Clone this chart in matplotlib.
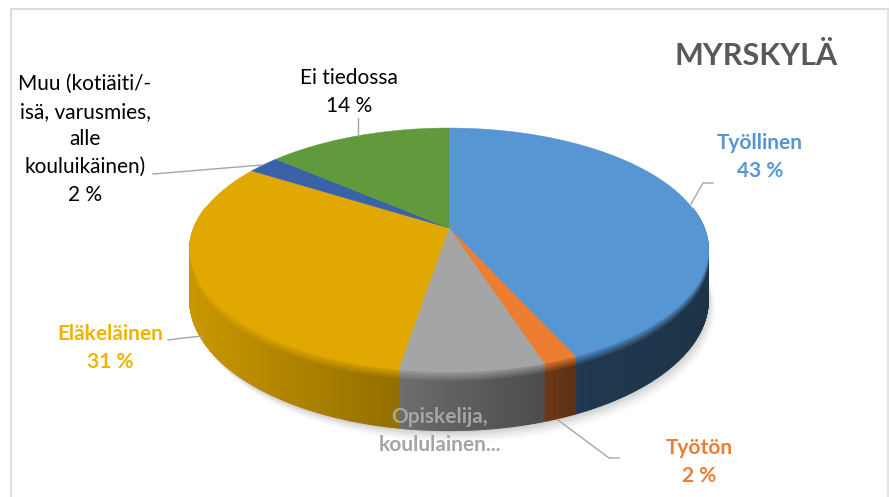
import numpy as np
import matplotlib.pyplot as plt
from matplotlib.collections import PolyCollection
from matplotlib.colors import to_rgb

plt.rcParams["font.family"] = ["Lato", "DejaVu Sans"]

LABELS = ["Työllinen", "Työtön", "Opiskelija,\nkoululainen...", "Eläkeläinen",
          "Muu (kotiäiti/-\nisä, varusmies,\nalle\nkouluikäinen)", "Ei tiedossa"]
VALUES = [43.2, 1.8, 7.6, 31.3, 2.4, 13.7]
PERCENT = ["43 %", "2 %", "", "31 %", "2 %", "14 %"]
COLORS = ["#5696D3", "#ED7D31", "#A5A5A5", "#E0A800", "#3A62A8", "#619A3C"]

# pie centre and perspective, in pixels of the 889x497 picture
CX, CY = 449, 228
RX, RY = 255, 118
TILT = 0.18
DEPTH = 48


def rim(angle):
    # angle clockwise from 12 o'clock, circle seen in perspective
    x, y = np.sin(angle), np.cos(angle)
    w = 1 + TILT * y
    return CX + RX * x / w, CY - RY * y / w, w


def shade(color, x):
    f = np.interp(x, [190, 400, 545, 580, 710], [0.9, 0.66, 0.46, 0.38, 0.34])
    return np.array(to_rgb(color)) * f


fig = plt.figure(figsize=(8.89, 4.97), dpi=100)
ax = fig.add_axes([0, 0, 1, 1])
ax.set_xlim(0, 889)
ax.set_ylim(497, 0)
ax.axis("off")

# chart frame
ax.plot([888, 888], [8.5, 497], color="#E4E4E4", lw=1.5)
ax.plot([889, 10.5, 10.5], [8.5, 8.5, 497], color="#DDDDDD", lw=1.5)

edges = np.cumsum([0] + VALUES) / sum(VALUES) * 2 * np.pi

# soft shadow under the pie
t = np.linspace(0, 2 * np.pi, 240)
sx, sy, sw = rim(t)
for grow, alpha in zip([9, 7, 5, 3, 1], [0.02, 0.03, 0.04, 0.05, 0.06]):
    ax.fill(sx + grow * 0.8, sy + (DEPTH + grow) / sw + 1, color="k", alpha=alpha, lw=0)

# side wall, split along the rim and down the height
bands = [0, 0.04, 0.08, 0.12, 0.16, 1]
polys, cols = [], []
for start, stop, color in zip(edges[:-1], edges[1:], COLORS):
    steps = max(int((stop - start) / 0.01), 2)
    a = np.linspace(start, stop, steps + 1)
    x, y, w = rim(a)
    for i in range(steps):
        if y[i] < CY - 20:
            continue
        wall = shade(color, x[i])
        top = np.array(to_rgb(color))
        for b0, b1 in zip(bands[:-1], bands[1:]):
            mix = min(b0 / 0.16, 1)
            polys.append([(x[i], y[i] + b0 * DEPTH / w[i]),
                          (x[i + 1], y[i + 1] + b0 * DEPTH / w[i + 1]),
                          (x[i + 1], y[i + 1] + b1 * DEPTH / w[i + 1]),
                          (x[i], y[i] + b1 * DEPTH / w[i])])
            cols.append(top * (1 - mix) * 0.8 + wall * (1 - (1 - mix) * 0.8))
ax.add_collection(PolyCollection(polys, facecolors=cols, edgecolors=cols, linewidths=1.0))

# top face
for start, stop, color in zip(edges[:-1], edges[1:], COLORS):
    a = np.linspace(start, stop, 120)
    x, y, _ = rim(a)
    ax.fill(np.r_[CX, x], np.r_[CY, y], color=color, lw=0.3)

# leader lines
LEADER = "#A6A6A6"
ax.plot([691, 703, 713], [204, 183, 183], color=LEADER, lw=1)
ax.plot([558, 609, 619], [420, 458, 458], color=LEADER, lw=1)
ax.plot([168, 183, 203], [340, 338, 336], color=LEADER, lw=1)
ax.plot([153, 262], [174, 165], color=LEADER, lw=1)
ax.plot([358, 358], [118, 136], color=LEADER, lw=1)

ax.text(756, 56, "MYRSKYLÄ", color="#595959", fontsize=22, fontweight="bold", ha="center", va="center")


def label(x, y, name, pct, color, weight):
    lines = name.split("\n") + ([pct] if pct else [])
    for i, line in enumerate(lines):
        ax.text(x, y + i * 27.7, line, color=color, fontsize=15, fontweight=weight, ha="center", va="center")


label(760, 143, LABELS[0], PERCENT[0], COLORS[0], "bold")
label(699, 448, LABELS[1], PERCENT[1], COLORS[1], "bold")
label(440, 417, LABELS[2], PERCENT[2], COLORS[2], "bold")
label(110, 334, LABELS[3], PERCENT[3], "#F0B400", "bold")
label(85, 84, LABELS[4], PERCENT[4], "black", "normal")
label(349, 78, LABELS[5], PERCENT[5], "black", "normal")

fig.savefig("out.png", dpi=100)
